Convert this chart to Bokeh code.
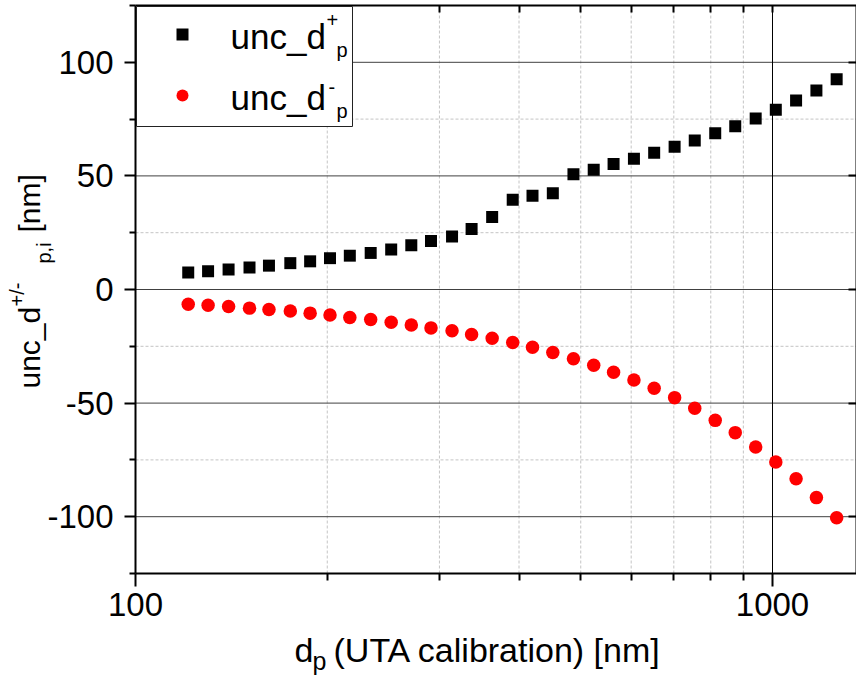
import math
from bokeh.plotting import figure
from bokeh.models import (Range1d, FixedTicker, LogAxis, LinearAxis, ColumnDataSource, Legend,
                          LegendItem, BoxAnnotation, Label, PrintfTickFormatter)
from bokeh.embed import file_html
from bokeh.resources import INLINE

# ---------------- data ----------------
dp_nm = [121, 130, 140, 151, 162, 175, 188, 202, 217, 234, 252, 271, 291, 314, 337,
         363, 391, 420, 452, 487, 524, 563, 606, 652, 702, 755, 813, 874, 941, 1012,
         1089, 1172, 1261]
unc_plus = [7.5, 8.0, 8.8, 9.7, 10.5, 11.6, 12.4, 13.8, 14.9, 16.1, 17.6, 19.5, 21.4,
            23.3, 26.6, 31.9, 39.5, 41.3, 42.4, 50.7, 52.7, 55.2, 57.6, 60.2, 62.8,
            65.6, 68.8, 71.9, 75.3, 79.1, 83.2, 87.6, 92.5]
unc_minus = [-6.5, -6.9, -7.5, -8.2, -8.8, -9.5, -10.4, -11.2, -12.3, -13.2, -14.4,
             -15.6, -16.9, -18.2, -19.8, -21.5, -23.3, -25.4, -27.7, -30.5, -33.3,
             -36.4, -39.8, -43.5, -47.6, -52.3, -57.6, -63.0, -69.3, -75.9, -83.3,
             -91.6, -100.5]

x_major_ticks = [100, 1000]
x_minor_ticks = [200, 300, 400, 500, 600, 700, 800, 900]
y_major_ticks = [-100, -50, 0, 50, 100]
y_minor_ticks = [-125, -75, -25, 25, 75, 125]
y_minor_grid = [-75, -25, 25, 75]

# ---------------- geometry (screen pixels of the plot area) ----------------
W, H = 856, 680
FL, FR, FT, FB = 135, 856, 5, 573
DECADE = 637.0
X0 = 100.0
X1 = 10 ** (2 + (FR - FL) / DECADE)
Y0, Y1 = -125.0, 125.0


def dx(sx):
    return 10 ** (math.log10(X0) + (sx - FL) / DECADE)


def dy(sy):
    return Y1 - (sy - FT) * (Y1 - Y0) / (FB - FT)


FONT = "Liberation Sans"

# the frame covers the whole canvas; axes are fixed at the plot-area edges
p = figure(width=W, height=H, x_axis_type="log",
           x_range=Range1d(dx(0), dx(W)), y_range=Range1d(dy(H), dy(0)),
           output_backend="svg", toolbar_location=None,
           min_border_left=0, min_border_right=0, min_border_top=0, min_border_bottom=0)
p.background_fill_color = "white"
p.border_fill_color = "white"
p.outline_line_color = None
p.xgrid.visible = False
p.ygrid.visible = False

xa = p.below[0]
ya = p.left[0]

xa.ticker = FixedTicker(ticks=x_major_ticks, minor_ticks=x_minor_ticks)
xa.formatter = PrintfTickFormatter(format="%d")
xa.fixed_location = Y0
xa.bounds = (X0, X1)
ya.ticker = FixedTicker(ticks=y_major_ticks, minor_ticks=y_minor_ticks)
ya.formatter = PrintfTickFormatter(format="%d")
ya.fixed_location = X0
ya.bounds = (Y0, Y1)

for ax, mj, mn, so in ((xa, 13, 7, 6), (ya, 11, 6, 11)):
    ax.axis_line_color = "black"
    ax.axis_line_width = 2
    ax.major_tick_line_color = "black"
    ax.minor_tick_line_color = "black"
    ax.major_tick_line_width = 2
    ax.minor_tick_line_width = 2
    ax.major_tick_out = mj
    ax.major_tick_in = 0
    ax.minor_tick_out = mn
    ax.minor_tick_in = 0
    ax.major_label_text_font = FONT
    ax.major_label_text_font_size = "33px"
    ax.major_label_text_color = "black"
    ax.major_label_standoff = so
    ax.axis_label = None

top = LogAxis(ticker=FixedTicker(ticks=[], minor_ticks=x_minor_ticks + [1000]),
              fixed_location=Y1, bounds=(X0, X1),
              axis_line_width=2, axis_line_color="black",
              minor_tick_in=7, minor_tick_out=0, major_tick_in=0, major_tick_out=0,
              minor_tick_line_width=2, minor_tick_line_color="black",
              major_label_standoff=0)
p.add_layout(top, "above")

right = LinearAxis(ticker=FixedTicker(ticks=[], minor_ticks=y_major_ticks),
                   fixed_location=X1, bounds=(Y0, Y1),
                   axis_line_width=2, axis_line_color="black",
                   minor_tick_in=8, minor_tick_out=0, major_tick_in=0, major_tick_out=0,
                   minor_tick_line_width=2, minor_tick_line_color="black",
                   major_label_standoff=0)
p.add_layout(right, "right")

# grid lines, from the tick lists, limited to the plot area
GRID_MINOR = "#c4c4c4"
p.segment(x0=x_minor_ticks, x1=x_minor_ticks, y0=[Y0] * len(x_minor_ticks),
          y1=[Y1] * len(x_minor_ticks), line_color=GRID_MINOR, line_width=1, line_dash="3 2")
p.segment(x0=[X0] * len(y_minor_grid), x1=[X1] * len(y_minor_grid), y0=y_minor_grid,
          y1=y_minor_grid, line_color=GRID_MINOR, line_width=1, line_dash="3 2")
p.segment(x0=[X0] * len(y_major_ticks), x1=[X1] * len(y_major_ticks), y0=y_major_ticks,
          y1=y_major_ticks, line_color="#404040", line_width=1)
p.segment(x0=x_major_ticks[1:], x1=x_major_ticks[1:], y0=[Y0], y1=[Y1],
          line_color="black", line_width=1)

src = ColumnDataSource(dict(dp=dp_nm, plus=unc_plus, minus=unc_minus))
r_plus = p.scatter("dp", "plus", source=src, marker="square", size=12,
                   fill_color="black", line_color=None)
r_minus = p.scatter("dp", "minus", source=src, marker="circle", size=13.5,
                    fill_color="#ff0000", line_color=None)

# legend frame
box = BoxAnnotation(left=dx(136), right=dx(352), top=dy(6), bottom=dy(126),
                    fill_color="white", fill_alpha=1.0,
                    line_color="#222222", line_alpha=1.0, line_width=1)
p.add_layout(box)

GW, GH, SP = 30, 30, 31
leg_h = 2 * GH + SP
leg_top_screen = 34 - GH / 2
legend = Legend(items=[LegendItem(label="", renderers=[r_plus]),
                       LegendItem(label="", renderers=[r_minus])],
                location=(181.7 - GW / 2, H - leg_top_screen - leg_h),
                glyph_width=GW, glyph_height=GH, spacing=SP, padding=0, margin=0,
                label_standoff=0, label_width=0, label_height=0,
                label_text_font_size="8px",
                background_fill_alpha=0, border_line_color=None)
p.add_layout(legend)


def txt(s, sx, sy, size, angle=0.0):
    p.add_layout(Label(x=dx(sx), y=dy(sy), text=s, text_font=FONT,
                       text_font_size=f"{size}px", text_color="black",
                       text_align="left", text_baseline="alphabetic", angle=angle))


# legend texts
txt("unc_d", 230, 35.5, 35)
txt("+", 326, 19.5, 20)
txt("p", 336, 49.5, 20)
txt("unc_d", 230, 96.5, 35)
txt("-", 328, 86, 20)
txt("p", 336, 110.5, 20)

# x axis title
txt("d", 294, 649, 34)
txt("p", 312, 660, 25)
txt("(UTA calibration) [nm]", 333, 649, 34)

# y axis title (rotated)
A = math.pi / 2
txt("unc_d", 29, 388, 30, A)
txt("+/-", 16, 306, 20, A)
txt("p,i", 43, 263, 20, A)
txt("[nm]", 29, 232, 30, A)

open("out.html", "w").write(file_html(p, INLINE))
